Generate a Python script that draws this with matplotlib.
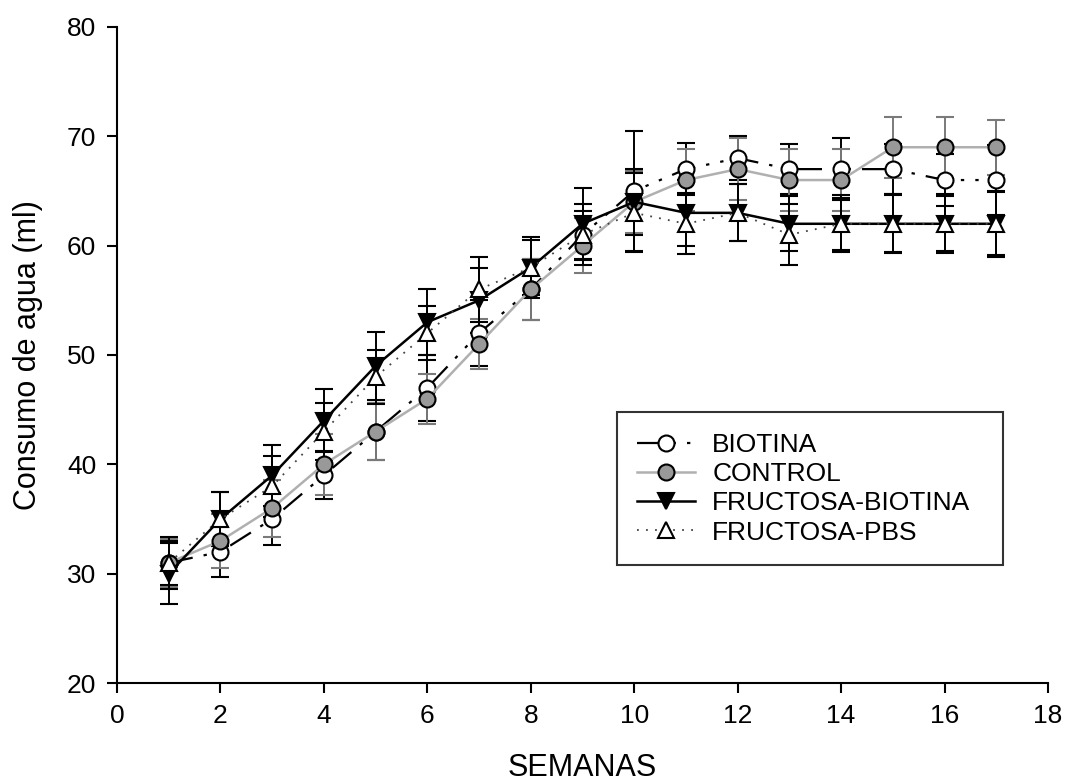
import numpy as np
import matplotlib.pyplot as plt
from matplotlib.lines import Line2D

plt.rcParams['font.family'] = ['Liberation Sans', 'DejaVu Sans']

semanas = np.arange(1, 18)

biotina = [31, 32, 35, 39, 43, 47, 52, 56, 61, 65, 67, 68, 67, 67, 67, 66, 66]
biotina_err = [2.0, 2.3, 2.4, 2.2, 2.6, 3.0, 3.0, 2.8, 2.2, 5.5, 2.4, 2.0, 2.3, 2.8, 2.3, 2.4, 3.2]

control = [31, 33, 36, 40, 43, 46, 51, 56, 60, 64, 66, 67, 66, 66, 69, 69, 69]
control_err = [2.2, 2.5, 2.6, 2.8, 2.6, 2.3, 2.3, 2.8, 2.5, 2.8, 2.8, 2.8, 2.8, 2.8, 2.8, 2.8, 2.5]

fruct_biotina = [30, 35, 39, 44, 49, 53, 55, 58, 62, 64, 63, 63, 62, 62, 62, 62, 62]
fruct_biotina_err = [2.8, 2.5, 2.8, 2.9, 3.1, 3.0, 3.0, 2.8, 3.3, 3.0, 3.0, 2.6, 2.5, 2.6, 2.7, 2.7, 2.9]

fruct_pbs = [31, 35, 38, 43, 48, 52, 56, 58, 61, 63, 62, 63, 61, 62, 62, 62, 62]
fruct_pbs_err = [2.4, 2.5, 2.8, 2.6, 2.5, 2.5, 3.0, 2.5, 2.8, 3.6, 2.8, 2.6, 2.8, 2.4, 2.6, 2.5, 3.0]

fig = plt.figure(figsize=(10.66, 7.84), dpi=100)
ax = fig.add_axes([0.1098, 0.1288, 0.8733, 0.8368])

# line/marker style per group
styles = {
    'BIOTINA': dict(color='black', lw=1.6, ls=(0, (11, 5, 1.5, 5, 1.5, 5)),
                    marker='o', ms=11.5, mfc='white', mec='black', mew=1.5),
    'CONTROL': dict(color='#b0b0b0', lw=1.8, ls='-',
                    marker='o', ms=11.5, mfc='#999999', mec='black', mew=1.5),
    'FRUCTOSA-BIOTINA': dict(color='black', lw=1.8, ls='-',
                             marker='v', ms=12, mfc='black', mec='black', mew=1.5),
    'FRUCTOSA-PBS': dict(color='#444444', lw=1.3, ls=(0, (1, 4)),
                         marker='^', ms=12, mfc='white', mec='black', mew=1.5),
}
series = [
    ('BIOTINA', biotina, biotina_err, 'black'),
    ('CONTROL', control, control_err, '#7a7a7a'),
    ('FRUCTOSA-BIOTINA', fruct_biotina, fruct_biotina_err, 'black'),
    ('FRUCTOSA-PBS', fruct_pbs, fruct_pbs_err, 'black'),
]

for name, vals, err, ecol in series:
    ax.errorbar(semanas, vals, yerr=err, ecolor=ecol, elinewidth=1.4,
                capsize=6.5, capthick=1.4, **styles[name])

ax.set_xlim(0, 18)
ax.set_ylim(20, 80)
ax.set_xticks(np.arange(0, 19, 2))
ax.set_yticks(np.arange(20, 81, 10))
ax.spines['top'].set_visible(False)
ax.spines['right'].set_visible(False)
for s in ('left', 'bottom'):
    ax.spines[s].set_linewidth(1.5)
ax.tick_params(direction='out', length=7, width=1.5, labelsize=19, pad=8)

ax.set_xlabel('SEMANAS', fontsize=22, va='baseline')
ax.xaxis.set_label_coords(0.5, -(776 - 683) / 656)
ax.set_ylabel('Consumo de agua (ml)', fontsize=22, va='center')
ax.yaxis.set_label_coords(-(117 - 28) / 931, 0.5)

handles = [Line2D([], [], **styles[name]) for name, *_ in series]
leg = ax.legend(handles, [name for name, *_ in series],
                loc='lower left', bbox_to_anchor=(0.537, 0.18, 0.415, 0.247),
                mode='expand', borderaxespad=0, fontsize=19, frameon=True,
                fancybox=False, edgecolor='black', handlelength=2.2,
                handletextpad=0.64, borderpad=0.77, labelspacing=0.2)
leg.get_frame().set_linewidth(1.5)

fig.savefig('out.png', dpi=100)
